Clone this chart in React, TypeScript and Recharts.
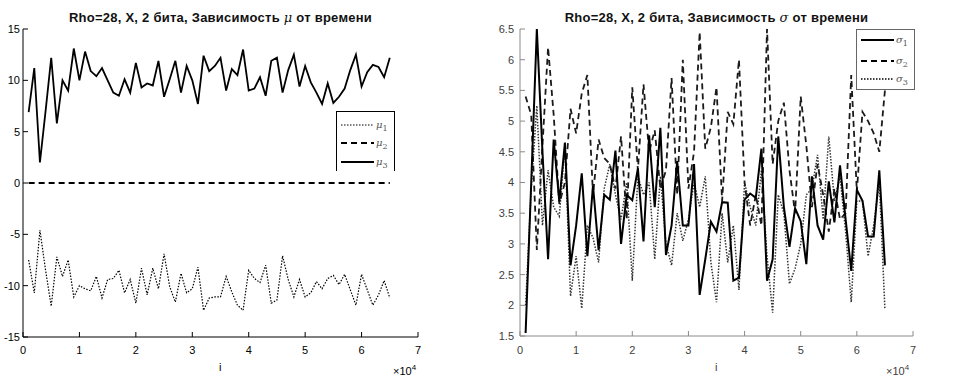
import React from 'react';
import { LineChart, Line, XAxis, YAxis } from 'recharts';

const FONT = '"Liberation Sans", Arial, sans-serif';

// iteration index (x axis, shown as x10^4)
const ITER = [
  1000, 2000, 3000, 4000, 5000, 6000, 7000, 8000, 9000, 10000,
  11000, 12000, 13000, 14000, 15000, 16000, 17000, 18000, 19000, 20000,
  21000, 22000, 23000, 24000, 25000, 26000, 27000, 28000, 29000, 30000,
  31000, 32000, 33000, 34000, 35000, 36000, 37000, 38000, 39000, 40000,
  41000, 42000, 43000, 44000, 45000, 46000, 47000, 48000, 49000, 50000,
  51000, 52000, 53000, 54000, 55000, 56000, 57000, 58000, 59000, 60000,
  61000, 62000, 63000, 64000, 65000,
];

const MU1 = [
  -7.5, -10.7, -4.6, -8.5, -12.0, -7.2, -9.1, -7.5, -11.1, -10.0,
  -10.3, -10.5, -9.1, -11.2, -9.4, -9.3, -8.5, -10.7, -9.4, -11.7,
  -8.3, -10.9, -8.3, -10.3, -6.9, -10.1, -11.6, -8.8, -10.7, -10.3,
  -8.2, -12.4, -11.2, -11.1, -11.1, -9.1, -10.6, -11.9, -12.4, -8.5,
  -9.3, -9.7, -8.0, -11.7, -11.4, -7.1, -9.4, -11.1, -9.4, -11.1,
  -10.7, -9.6, -10.3, -9.3, -9.0, -9.9, -8.9, -10.4, -11.9, -8.9,
  -10.4, -11.9, -10.9, -9.5, -11.2,
];

const MU2 = [
  0, 0, 0, 0, 0, 0, 0, 0, 0, 0, 0, 0, 0, 0, 0, 0, 0, 0, 0, 0,
  0, 0, 0, 0, 0, 0, 0, 0, 0, 0, 0, 0, 0, 0, 0, 0, 0, 0, 0, 0,
  0, 0, 0, 0, 0, 0, 0, 0, 0, 0, 0, 0, 0, 0, 0, 0, 0, 0, 0, 0,
  0, 0, 0, 0, 0,
];

const MU3 = [
  6.9, 11.2, 2.0, 7.0, 12.2, 5.8, 10.0, 9.0, 13.1, 10.0,
  12.8, 10.9, 10.4, 11.2, 10.0, 8.8, 8.5, 10.1, 8.8, 11.7,
  9.3, 9.7, 9.5, 11.9, 8.4, 10.1, 11.9, 8.8, 11.4, 10.0,
  7.7, 12.4, 10.9, 11.4, 12.2, 9.0, 11.1, 10.5, 13.0, 9.0,
  9.2, 10.3, 8.5, 11.9, 12.2, 8.8, 11.0, 12.5, 9.4, 11.4,
  9.8, 8.8, 7.7, 9.7, 7.8, 8.4, 9.2, 11.0, 12.5, 9.4,
  10.8, 11.5, 11.3, 10.3, 12.2,
];

const SIGMA1 = [
  1.55, 4.0, 6.5, 4.5, 2.75, 4.7, 3.69, 4.65, 2.65, 3.3,
  4.15, 2.8, 3.95, 2.9, 3.8, 3.72, 4.52, 3.0, 3.8, 3.71,
  4.23, 3.04, 4.77, 3.6, 4.89, 2.82, 3.3, 4.35, 3.3, 3.3,
  4.3, 2.17, 2.75, 3.36, 3.2, 3.68, 3.67, 2.4, 2.45, 3.72,
  3.82, 3.75, 4.55, 2.4, 2.75, 4.75, 3.6, 2.95, 3.58, 3.37,
  2.67, 4.1, 3.3, 3.07, 4.02, 3.35, 4.28, 3.4, 2.56, 3.88,
  3.7, 3.12, 3.12, 4.2, 2.65,
];

const SIGMA2 = [
  5.4, 5.1, 2.9, 4.6, 6.2, 5.1, 3.65, 4.0, 5.2, 4.8,
  5.45, 5.75, 3.8, 4.7, 4.4, 4.3, 3.9, 4.75, 3.4, 5.55,
  4.2, 5.6, 4.5, 4.85, 3.9, 4.2, 5.7, 3.8, 6.0, 3.9,
  4.5, 6.45, 4.55, 4.9, 5.55, 3.7, 5.15, 4.95, 6.0, 4.0,
  3.3, 3.8, 3.3, 6.5, 4.3, 5.0, 5.3, 4.2, 3.5, 5.4,
  4.6, 3.6, 4.3, 3.8, 3.2, 3.9, 3.4, 3.5, 5.75, 3.85,
  5.15, 5.0, 4.8, 4.5, 5.5,
];

const SIGMA3 = [
  2.0, 3.9, 5.25, 3.3, 4.2, 3.6, 3.45, 4.6, 2.15, 2.8,
  1.95, 3.3, 3.1, 2.7, 3.9, 4.3, 3.8, 3.4, 4.0, 2.4,
  4.1, 3.8, 4.0, 2.75, 4.1, 3.0, 2.65, 3.5, 3.05, 3.4,
  4.0, 3.6, 4.1, 2.7, 2.05, 3.5, 2.7, 3.3, 2.25, 4.0,
  3.6, 3.3, 4.2, 2.8, 1.88, 3.8, 3.5, 2.35, 2.6, 3.0,
  3.8, 3.9, 4.45, 3.4, 4.75, 3.7, 4.1, 3.2, 2.05, 3.7,
  3.7, 2.8, 3.3, 4.0, 1.93,
];

const X_TICKS = [0, 10000, 20000, 30000, 40000, 50000, 60000, 70000];
const MU_TICKS = [-15, -10, -5, 0, 5, 10, 15];
const SIGMA_TICKS = [1.5, 2, 2.5, 3, 3.5, 4, 4.5, 5, 5.5, 6, 6.5];

const muData = ITER.map((i, k) => ({ i, mu1: MU1[k], mu2: MU2[k], mu3: MU3[k] }));
const sigmaData = ITER.map((i, k) => ({ i, s1: SIGMA1[k], s2: SIGMA2[k], s3: SIGMA3[k] }));

const DOTTED = '1.5 1.5';
const DASHED = '6 4';

const MU_LEGEND = [
  { sub: '1', dash: DOTTED, width: 1.2 },
  { sub: '2', dash: DASHED, width: 1.8 },
  { sub: '3', dash: undefined, width: 1.8 },
];
const SIGMA_LEGEND = [
  { sub: '1', dash: undefined, width: 2 },
  { sub: '2', dash: DASHED, width: 1.8 },
  { sub: '3', dash: DOTTED, width: 1.5 },
];

const empty = () => '';

const LegendBox = ({ items, symbol, left, top, rows, border, noBottom }: any) => (
  <div
    style={{
      position: 'absolute', left, top, width: 57, height: 59, background: '#fff',
      borderLeft: `1px solid ${border}`, borderRight: `1px solid ${border}`, borderTop: `1px solid ${border}`,
      borderBottom: noBottom ? 'none' : `1px solid ${border}`,
    }}
  >
    <svg width={57} height={59} style={{ display: 'block' }}>
      {items.map((it: any, k: number) => (
        <g key={k}>
          <line x1={4} x2={37} y1={rows[k]} y2={rows[k]} stroke="#000" strokeWidth={it.width} strokeDasharray={it.dash} />
          <text x={39} y={rows[k] + 3} fontFamily="DejaVu Serif, serif" fontSize={10} fill="#555">
            <tspan fontStyle="italic">{symbol}</tspan>
            <tspan dy={3} fontSize={8}>{it.sub}</tspan>
          </text>
        </g>
      ))}
    </svg>
  </div>
);

const Title = ({ left, width, symbol }: any) => (
  <div
    style={{
      position: 'absolute', left, top: 10, width, textAlign: 'center',
      fontFamily: FONT, fontWeight: 'bold', fontSize: 13, letterSpacing: 0.25, color: '#111', whiteSpace: 'nowrap',
    }}
  >
    Rho=28, X, 2 бита, Зависимость{' '}
    <span style={{ fontStyle: 'italic', fontWeight: 'normal', fontFamily: 'DejaVu Serif, serif' }}>{symbol}</span> от времени
  </div>
);

const Small = ({ left, top, children, color }: any) => (
  <div style={{ position: 'absolute', left, top, fontFamily: FONT, fontSize: 11, color, whiteSpace: 'nowrap' }}>
    {children}
  </div>
);

export default function App() {
  const leftTick = { fill: '#000', fontSize: 11, fontFamily: FONT };
  const rightTick = { fill: '#404040', fontSize: 11, fontFamily: FONT };
  const grey = '#8a8a8a';
  return (
    <div style={{ position: 'absolute', left: 0, top: 0, width: 962, height: 378, background: '#fff', overflow: 'hidden' }}>
      <div style={{ position: 'absolute', left: 0, top: 0 }}>
        <LineChart width={480} height={378} data={muData} margin={{ top: 29, right: 62, bottom: 0, left: 0 }}>
          <XAxis dataKey="i" type="number" domain={[0, 70000]} ticks={X_TICKS} interval={0}
            tickFormatter={(v: number) => String(v / 10000)} height={41} tickSize={-5} tickMargin={14}
            stroke="#000" tick={leftTick} />
          <XAxis xAxisId="top" orientation="top" type="number" domain={[0, 70000]} ticks={X_TICKS} interval={0}
            height={0} tickSize={-5} tickFormatter={empty} stroke="#000" />
          <YAxis type="number" domain={[-15, 15]} ticks={MU_TICKS} interval={0} width={23}
            tickSize={-5} tickMargin={8} stroke="#000" tick={leftTick} />
          <YAxis yAxisId="right" orientation="right" type="number" domain={[-15, 15]} ticks={MU_TICKS} interval={0}
            width={0} tickSize={-5} tickFormatter={empty} stroke="#000" />
          <Line dataKey="mu1" stroke="#000" strokeWidth={1.2} strokeDasharray={DOTTED} dot={false} isAnimationActive={false} />
          <Line dataKey="mu2" stroke="#000" strokeWidth={1.8} strokeDasharray={DASHED} dot={false} isAnimationActive={false} />
          <Line dataKey="mu3" stroke="#000" strokeWidth={1.8} dot={false} isAnimationActive={false} />
        </LineChart>
      </div>
      <div style={{ position: 'absolute', left: 480, top: 0 }}>
        <LineChart width={482} height={378} data={sigmaData} margin={{ top: 29, right: 49, bottom: 0, left: 0 }}>
          <XAxis dataKey="i" type="number" domain={[0, 70000]} ticks={X_TICKS} interval={0}
            tickFormatter={(v: number) => String(v / 10000)} height={42} tickSize={-5} tickMargin={15}
            stroke={grey} tick={rightTick} />
          <XAxis xAxisId="top" orientation="top" type="number" domain={[0, 70000]} ticks={X_TICKS} interval={0}
            height={0} tickSize={-5} tickFormatter={empty} stroke={grey} />
          <YAxis type="number" domain={[1.5, 6.5]} ticks={SIGMA_TICKS} interval={0} width={40}
            tickSize={-5} tickMargin={11} stroke={grey} tick={rightTick} allowDataOverflow />
          <YAxis yAxisId="right" orientation="right" type="number" domain={[1.5, 6.5]} ticks={SIGMA_TICKS} interval={0}
            width={0} tickSize={-5} tickFormatter={empty} stroke={grey} />
          <Line dataKey="s3" stroke="#333" strokeWidth={1.5} strokeDasharray={DOTTED} dot={false} isAnimationActive={false} />
          <Line dataKey="s2" stroke="#1a1a1a" strokeWidth={1.8} strokeDasharray={DASHED} dot={false} isAnimationActive={false} />
          <Line dataKey="s1" stroke="#000" strokeWidth={2} dot={false} isAnimationActive={false} />
        </LineChart>
      </div>

      <Title left={23} width={395} symbol="μ" />
      <Title left={520} width={393} symbol="σ" />

      <LegendBox items={MU_LEGEND} symbol="μ" left={336} top={111} rows={[13, 31, 50]} border="#000" noBottom />
      <LegendBox items={SIGMA_LEGEND} symbol="σ" left={856} top={29} rows={[10, 31, 49]} border="#666" />

      <Small left={219} top={361} color="#000">i</Small>
      <Small left={715} top={361} color="#404040">i</Small>
      <Small left={393} top={363} color="#000">×10<sup style={{ fontSize: 8 }}>4</sup></Small>
      <Small left={886} top={363} color="#404040">×10<sup style={{ fontSize: 8 }}>4</sup></Small>
    </div>
  );
}
